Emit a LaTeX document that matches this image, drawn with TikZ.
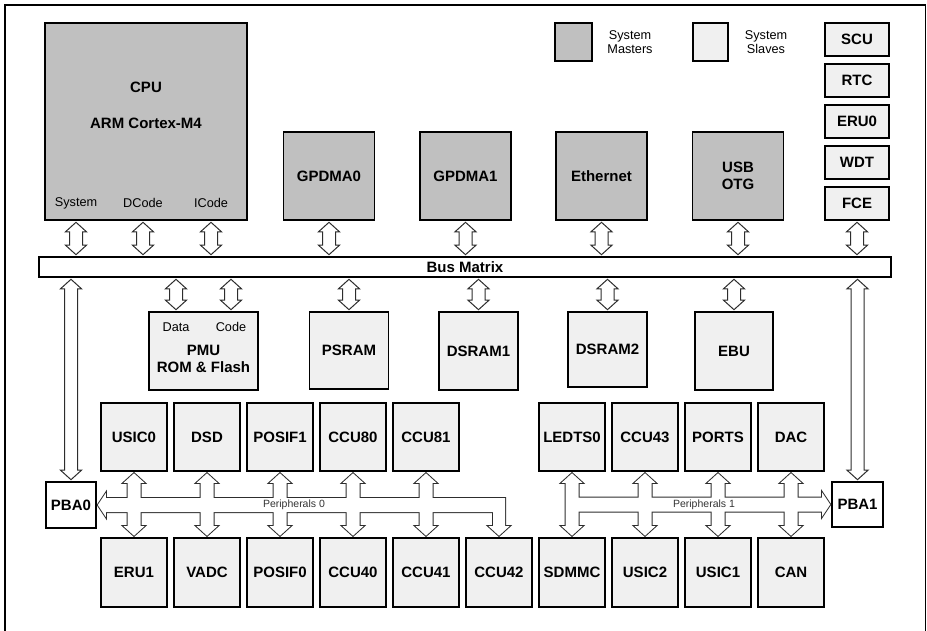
\documentclass[tikz,border=0pt]{standalone}
\usepackage{fontspec}
\setmainfont{Liberation Sans}
\usetikzlibrary{calc}
\definecolor{mastergray}{RGB}{192,192,192}
\definecolor{slavegray}{RGB}{240,240,240}
\definecolor{arrowline}{RGB}{45,45,45}

%% hollow double arrow, x taken from the first point
\newcommand\fatarrow[3]{%
  \path[#1] let \p1=(#2), \p2=(#3) in
    (\x1,\y1-1.5pt) -- (\x1+10.5pt,\y1-11pt) -- (\x1+6.5pt,\y1-11pt)
    -- (\x1+6.5pt,\y2+11pt) -- (\x1+10.5pt,\y2+11pt) -- (\x1,\y2+1.5pt)
    -- (\x1-10.5pt,\y2+11pt) -- (\x1-6.5pt,\y2+11pt)
    -- (\x1-6.5pt,\y1-11pt) -- (\x1-10.5pt,\y1-11pt) -- cycle;}

%% both peripheral buses, drawn twice (outline, then white inside)
\newcommand\periphbus[1]{%
  \foreach \pa/\pb in {usic0/eru1,dsd/vadc,posif1/posif0,ccu80/ccu40,ccu81/ccu41,
      ledts0/sdmmc,ccu43/usic2,ports/usic1,dac/can}
    {\fatarrow{#1}{\pa.south}{\pb.north}}
  \path[#1] let \p1=(pba0.east), \p2=(ccu42.north) in
    (\x1+1pt,\y1) -- (\x1+9pt,\y1+12pt) -- (\x1+9pt,\y1+7pt)
    -- (\x2+6pt,\y1+7pt) -- (\x2+6pt,\y2+11pt) -- (\x2+10.5pt,\y2+11pt)
    -- (\x2,\y2+1.5pt) -- (\x2-10.5pt,\y2+11pt) -- (\x2-6pt,\y2+11pt)
    -- (\x2-6pt,\y1-7pt) -- (\x1+9pt,\y1-7pt) -- (\x1+9pt,\y1-12pt) -- cycle;
  \path[#1] let \p1=(sdmmc.north), \p2=(pba1.west) in
    (\x1,\y2+7pt) -- (\x2-9pt,\y2+7pt) -- (\x2-9pt,\y2+12pt) -- (\x2-1pt,\y2)
    -- (\x2-9pt,\y2-12pt) -- (\x2-9pt,\y2-7pt) -- (\x1,\y2-7pt) -- cycle;}

\begin{document}
\begin{tikzpicture}[x=1pt, y=-1pt,
    btext/.style={font=\bfseries\fontsize{15}{17}\selectfont, inner sep=0pt, align=center},
    lbl/.style={font=\fontsize{12.7}{14.5}\selectfont, inner sep=0pt, align=center},
    box/.style={btext, draw, line width=1.6pt},
    master/.style={box, fill=mastergray},
    slave/.style={box, fill=slavegray},
    dma/.style={master, minimum width=91pt, minimum height=88pt},
    periph/.style={slave, minimum width=66pt, minimum height=68pt},
    fat/.style={draw=arrowline, fill=white, line width=1pt}]
    \useasboundingbox (0,0) rectangle (927,631);
    %% frame
    \draw[line width=1.8pt] (5,631) -- (5,5) -- (925.5,5) -- (925.5,631);

    %% system masters
    \node[master, minimum width=202pt, minimum height=197pt] (cpu) at (146,121.5) {};
    \node[btext] (cpuname) at (146,87) {CPU};
    \node[btext] (cpucore) at (146,123) {ARM Cortex-M4};
    \node[lbl] (sysport) at (76,203) {System};
    \node[lbl] (dport) at (143,203) {DCode};
    \node[lbl] (iport) at (211,203) {ICode};
    \node[dma] (gpdma0) at (329,176) {GPDMA0};
    \node[dma] (gpdma1) at (465.5,176) {GPDMA1};
    \node[dma] (eth) at (601.5,176) {Ethernet};
    \node[dma] (usb) at (738,176) {USB\\OTG};

    %% legend
    \node[master, minimum width=37pt, minimum height=38pt] (keymaster) at (573.5,42) {};
    \node[lbl] (keymastertext) at (630,42) {System\\Masters};
    \node[slave, minimum width=35pt, minimum height=38pt] (keyslave) at (710.5,42) {};
    \node[lbl] (keyslavetext) at (766,42) {System\\Slaves};

    %% right column
    \foreach \name/\txt [count=\i from 0] in {scu/SCU,rtc/RTC,eru0/ERU0,wdt/WDT,fce/FCE}
      \node[slave, minimum width=64pt, minimum height=33pt] (\name) at (857,39.5+41*\i) {\txt};

    %% bus matrix
    \node[box, fill=white, minimum width=852pt, minimum height=20pt] (bus) at (465,267) {Bus Matrix};

    %% system slaves
    \node[slave, minimum width=109pt, minimum height=78pt] (pmu) at (203.5,351) {};
    \node[lbl] (pmudata) at (176,327) {Data};
    \node[lbl] (pmucode) at (231,327) {Code};
    \node[btext] (pmuname) at (203.5,358.5) {PMU\\ROM \& Flash};
    \node[slave, minimum width=79pt, minimum height=77pt] (psram) at (349,350.5) {PSRAM};
    \node[slave, minimum width=79pt, minimum height=78pt] (dsram1) at (478.5,351) {DSRAM1};
    \node[slave, minimum width=79pt, minimum height=75pt] (dsram2) at (607.5,349.5) {DSRAM2};
    \node[slave, minimum width=78pt, minimum height=78pt] (ebu) at (734,351) {EBU};

    %% peripherals
    \foreach \name/\txt/\c in {usic0/USIC0/0,dsd/DSD/1,posif1/POSIF1/2,ccu80/CCU80/3,
        ccu81/CCU81/4,ledts0/LEDTS0/6,ccu43/CCU43/7,ports/PORTS/8,dac/DAC/9}
      \node[periph] (\name) at (134+73*\c,437) {\txt};
    \foreach \name/\txt/\c in {eru1/ERU1/0,vadc/VADC/1,posif0/POSIF0/2,ccu40/CCU40/3,
        ccu41/CCU41/4,ccu42/CCU42/5,sdmmc/SDMMC/6,usic2/USIC2/7,usic1/USIC1/8,can/CAN/9}
      \node[periph, minimum height=69pt] (\name) at (134+73*\c,572.5) {\txt};
    \node[box, fill=white, minimum width=50pt, minimum height=46pt] (pba0) at (71,505) {PBA0};
    \node[box, fill=white, minimum width=51pt, minimum height=45pt] (pba1) at (857.5,504.5) {PBA1};

    %% masters to bus matrix
    \foreach \port in {sysport,dport,iport}
      {\fatarrow{fat}{\port |- cpu.south}{\port |- bus.north}}
    \foreach \m in {gpdma0,gpdma1,eth,usb,fce}
      {\fatarrow{fat}{\m.south}{\m.south |- bus.north}}
    %% bus matrix to slaves and bridges
    \foreach \s in {pmudata,pmucode}
      {\fatarrow{fat}{\s |- bus.south}{\s |- pmu.north}}
    \foreach \s in {psram,dsram1,dsram2,ebu,pba0,pba1}
      {\fatarrow{fat}{\s.north |- bus.south}{\s.north}}

    %% peripheral buses
    \periphbus{draw=arrowline, line width=2pt}
    \periphbus{fill=white}
    \node[font=\fontsize{10.5}{12}\selectfont, text=black!80, inner sep=0pt] (bus0name) at (294,505) {Peripherals 0};
    \node[font=\fontsize{10.5}{12}\selectfont, text=black!80, inner sep=0pt] (bus1name) at (704,505) {Peripherals 1};
\end{tikzpicture}
\end{document}
